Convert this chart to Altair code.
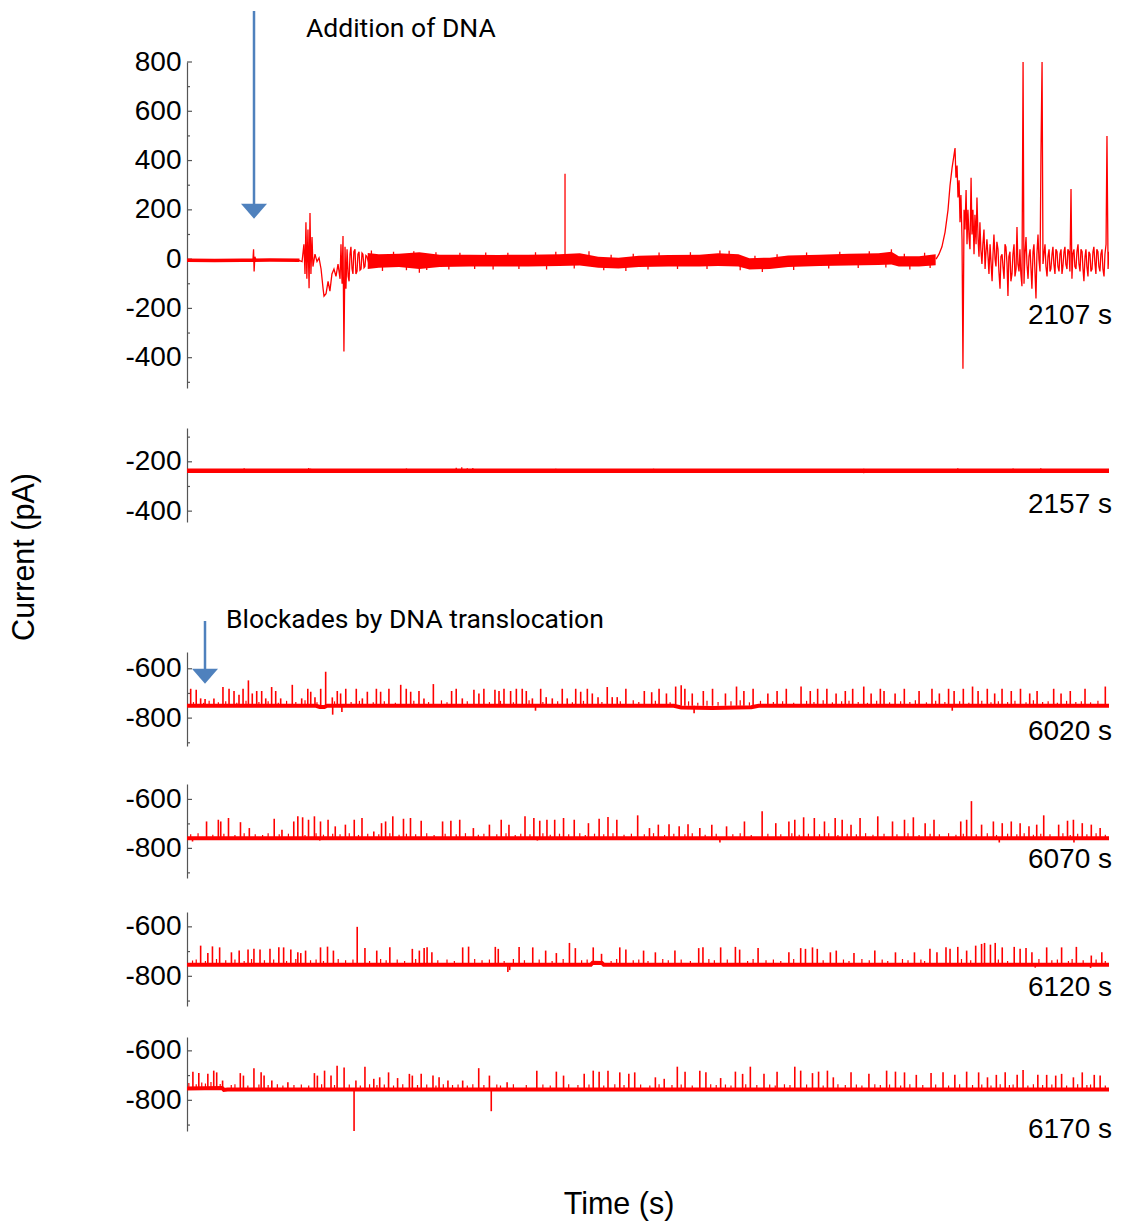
import altair as alt
import pandas as pd

W = 922
FONT = "Liberation Sans"
NARROW = "Roboto"
RED = "#ff0000"
BLUE = "#4f81bd"
AXC = "#555555"

# ---------------- labels ----------------
panel_labels = ["2107 s", "2157 s", "6020 s", "6070 s", "6120 s", "6170 s"]
annot_top = ["Addition of DNA"]
annot_mid = ["Blockades by DNA translocation"]
y_title = ["Current (pA)"]
x_title = ["Time (s)"]

# ---------------- panel 1 (ends 2107 s) ----------------
p1_flat = [(0, -5), (1.5, -6), (3.0, -5), (4.5, -4), (6.1, -5)]
p1_early = [
    (3.50, -5), (3.58, 0), (3.61, 40), (3.64, -50), (3.68, 10), (3.75, -5),
    (6.07, -5), (6.24, -10), (6.34, 60), (6.40, -60), (6.45, 150), (6.50, -80),
    (6.56, 120), (6.62, -118), (6.67, 187), (6.72, -60), (6.78, 90), (6.83, -30),
    (6.94, 20), (7.05, -10), (7.16, 5), (7.27, -40), (7.38, -120), (7.43, -150),
    (7.54, -140), (7.65, -90), (7.75, -130), (7.86, -60), (7.97, -40), (8.08, -70),
    (8.19, -20), (8.30, -80), (8.35, 60), (8.41, -100), (8.46, 94), (8.51, -375),
    (8.57, 50), (8.62, -120), (8.68, 40), (8.74, -70), (8.79, -90), (8.84, 20),
    (8.89, 50), (8.95, -40), (9.00, -60), (9.05, 30), (9.11, 40), (9.16, -60),
    (9.22, -50), (9.27, 20), (9.33, 30), (9.38, -45), (9.44, -40), (9.49, 25),
    (9.54, 20), (9.60, -35), (9.65, -30), (9.70, 15), (9.76, 10), (9.87, -20),
]
p1_band = [  # (t, lower, upper)
    (9.8, -40, 25), (10.4, -35, 20), (11.5, -32, 22), (12.6, -40, 28),
    (13.7, -32, 18), (15.3, -30, 18), (16.9, -30, 17), (18.5, -30, 18),
    (20.2, -28, 20), (21.3, -26, 24), (22.3, -35, 10), (23.4, -38, 6),
    (24.5, -32, 14), (26.1, -30, 17), (27.8, -30, 18), (28.8, -28, 24),
    (29.9, -30, 20), (30.5, -42, 4), (31.6, -40, 6), (32.6, -32, 15),
    (34.3, -28, 18), (35.9, -26, 22), (37.5, -24, 24), (38.2, -22, 30),
    (38.6, -30, 12), (39.7, -30, 12), (40.6, -25, 20),
]
p1_band_spikes = [
    (20.5, 346), (12.6, -55), (28.9, 35), (38.2, 40),
    (10.0, 35), (10.6, -48), (11.2, 30), (11.9, -45), (12.3, 32), (13.0, -44),
    (13.5, 28), (14.2, -42), (14.8, 26), (15.6, -40), (16.2, 27), (16.6, -42),
    (17.4, 26), (18.0, -40), (18.9, 28), (19.5, -42), (20.0, 30), (21.0, -38),
    (21.8, 32), (22.6, -45), (23.0, 18), (23.8, -48), (24.2, 22), (25.0, -42),
    (25.6, 27), (26.6, -40), (27.3, 28), (28.2, -40), (29.4, 34), (30.0, -45),
    (30.8, 14), (31.2, -52), (32.0, 20), (32.9, -44), (33.6, 27), (34.8, -38),
    (35.4, 30), (36.4, -36), (37.0, 32), (37.9, -34), (38.9, 22), (39.2, -42),
    (40.0, 26), (40.3, -36),
]
p1_late = [
    (40.62, 0), (40.78, 20), (40.94, 50), (41.11, 110), (41.27, 200), (41.38, 300),
    (41.49, 370), (41.59, 420), (41.65, 451), (41.70, 330), (41.76, 380), (41.81, 250),
    (41.87, 320), (41.92, 150), (41.97, 260), (42.03, 80), (42.08, -445), (42.14, 200),
    (42.19, 120), (42.25, 280), (42.30, 60), (42.35, 200), (42.41, 90), (42.46, 40),
    (42.52, 330), (42.57, 100), (42.62, 200), (42.68, 20), (42.73, 180), (42.79, 60),
    (42.84, 250), (42.90, 80), (42.95, 10), (43.00, 150), (43.05, 40), (43.11, -20),
    (43.16, 60), (43.22, 120), (43.28, -40), (43.33, 30), (43.38, 80), (43.44, 10),
    (43.49, -60), (43.55, 60), (43.60, -10), (43.66, -90), (43.71, 20), (43.76, 100),
    (43.82, 0), (43.87, -30), (43.92, 70), (43.98, 40), (44.03, -50), (44.09, -120),
    (44.14, 10), (44.20, 20), (44.25, -30), (44.31, -80), (44.36, 60), (44.41, 50),
    (44.47, -20), (44.52, -150), (44.57, 10), (44.63, 30), (44.68, -90), (44.74, -60),
    (44.79, 20), (44.85, 60), (44.90, -70), (44.96, -40), (45.01, 130), (45.06, -20),
    (45.12, -50), (45.17, 40), (45.22, -60), (45.28, -110), (45.34, 800), (45.39, -100),
    (45.44, 20), (45.50, 90), (45.55, -20), (45.61, -80), (45.66, 10), (45.72, 40),
    (45.77, -40), (45.82, -120), (45.88, 30), (45.93, 60), (45.98, -40), (46.04, -160),
    (46.09, 20), (46.15, 100), (46.20, 0), (46.26, -50), (46.31, 427), (46.37, 800),
    (46.42, -20), (46.47, 20), (46.53, 60), (46.58, -30), (46.64, -70), (46.69, 10),
    (46.75, 40), (46.80, -50), (46.85, -40), (46.91, 20), (46.96, 50), (47.01, -20),
    (47.07, -60), (47.12, 40), (47.18, 30), (47.23, -30), (47.29, -50), (47.34, 20),
    (47.40, 40), (47.45, -60), (47.50, -30), (47.56, 30), (47.61, 50), (47.66, -20),
    (47.72, -40), (47.77, 40), (47.83, 30), (47.88, -50), (47.94, 285), (47.99, -80),
    (48.04, 20), (48.10, 40), (48.15, -30), (48.21, -40), (48.26, 30), (48.32, 60),
    (48.37, -20), (48.43, -50), (48.48, 40), (48.54, 30), (48.59, -40), (48.64, -90),
    (48.70, 10), (48.75, 40), (48.80, -30), (48.86, -70), (48.91, 30), (48.97, 20),
    (49.02, -50), (49.08, -40), (49.13, 30), (49.18, 50), (49.24, -20), (49.29, -60),
    (49.34, 40), (49.40, 30), (49.45, -30), (49.51, -50), (49.56, 20), (49.62, 40),
    (49.67, -40), (49.73, -70), (49.78, 20), (49.84, 60), (49.89, 500), (49.95, -40),
    (50.00, 30),
]

# ---------------- panel 2 (ends 2157 s) ----------------
p2_base = [(0, -236), (50, -236)]
p2_spikes = [(3.1, -226), (6.6, -225), (6.7, -228), (11.9, -227), (14.6, -224),
             (14.9, -222), (15.2, -226), (15.5, -225), (20.0, -228), (25.3, -228),
             (36.7, -228), (41.8, -226), (44.8, -227), (46.3, -226),
             (6.6, -245), (36.7, -246)]

# ---------------- panel 3 (ends 6020 s) ----------------
p3_base = [(0, -750), (7.0, -750), (7.2, -755), (7.45, -755), (7.6, -750),
           (26.4, -750), (26.8, -757), (28.5, -759), (30.6, -756), (31.0, -750), (50, -750)]
p3_spikes = [
    (0.2, -681), (0.5, -685), (0.74, -720), (0.98, -722), (1.46, -720), (1.95, -674),
    (2.28, -681), (2.55, -690), (2.82, -705), (3.04, -681), (3.33, -647), (3.54, -700),
    (3.78, -690), (4.05, -690), (4.27, -720), (4.59, -674), (4.81, -690), (5.08, -720),
    (5.71, -665), (6.22, -720), (6.55, -681), (6.71, -693), (6.94, -715), (7.25, -681),
    (7.52, -612), (7.88, -716), (8.15, -690), (8.33, -700), (8.61, -681), (9.18, -681),
    (9.51, -720), (9.78, -693), (10.27, -681), (10.5, -693), (10.95, -681), (11.59, -665),
    (11.89, -681), (12.13, -693), (12.58, -690), (12.85, -720), (13.36, -662), (14.35, -690),
    (14.6, -681), (14.93, -720), (15.56, -685), (15.83, -700), (16.1, -681), (16.7, -685),
    (16.92, -690), (17.19, -681), (17.55, -690), (17.86, -681), (18.18, -681), (18.4, -690),
    (18.73, -720), (19.18, -681), (19.48, -715), (19.81, -720), (20.35, -681), (20.62, -720),
    (21.08, -681), (21.35, -693), (21.71, -681), (21.98, -700), (22.29, -715), (22.79, -674),
    (23.06, -715), (23.33, -715), (23.8, -681), (24.8, -690), (25.2, -695), (25.6, -681),
    (26.0, -700), (26.5, -672), (26.8, -667), (27.0, -681), (27.4, -700), (28.0, -690),
    (28.5, -681), (29.2, -700), (29.8, -672), (30.2, -690), (30.7, -681), (31.5, -700),
    (32.0, -690), (32.5, -681), (33.3, -672), (33.8, -690), (34.2, -681), (34.7, -681),
    (35.2, -700), (35.7, -690), (36.1, -681), (36.7, -672), (37.1, -700), (37.6, -681),
    (37.8, -690), (38.4, -700), (38.9, -681), (39.7, -690), (40.4, -681), (40.8, -700),
    (41.3, -681), (41.6, -690), (42.1, -681), (42.6, -672), (42.9, -690), (43.4, -681),
    (43.8, -700), (44.2, -681), (44.7, -690), (45.2, -681), (45.7, -700), (46.1, -690),
    (47.0, -681), (47.4, -700), (47.9, -690), (48.7, -681), (49.8, -672),
    (7.9, -786), (8.4, -775), (18.9, -770), (27.5, -780), (41.5, -770),
]
p3_small = [
    (0.35, -735), (0.9, -738), (1.2, -730), (1.7, -736), (2.1, -732), (2.7, -738),
    (3.2, -730), (3.9, -735), (4.4, -732), (4.95, -738), (5.4, -730), (5.9, -735),
    (6.4, -728), (7.05, -736), (8.0, -732), (8.9, -735), (9.35, -730), (10.1, -736),
    (10.7, -732), (11.3, -738), (12.3, -730), (13.1, -735), (13.8, -728), (14.1, -736),
    (15.2, -732), (16.4, -735), (17.0, -730), (17.7, -736), (18.55, -728), (19.3, -735),
    (20.1, -732), (20.9, -736), (21.5, -730), (22.5, -735), (23.5, -732), (24.2, -728),
    (24.5, -735), (25.4, -730), (26.2, -736), (27.2, -732), (27.7, -738), (28.2, -730),
    (28.8, -735), (29.5, -732), (30.0, -728), (30.5, -736), (31.1, -730), (31.8, -735),
    (32.3, -732), (32.9, -738), (33.6, -730), (34.0, -735), (34.5, -728), (35.0, -736),
    (35.5, -732), (35.9, -730), (36.4, -735), (36.9, -738), (37.4, -730), (38.1, -736),
    (38.7, -732), (39.2, -735), (39.5, -728), (40.1, -736), (40.6, -730), (41.1, -735),
    (41.9, -732), (42.4, -738), (43.1, -730), (43.6, -736), (44.0, -732), (44.5, -735),
    (44.9, -730), (45.5, -736), (45.9, -728), (46.4, -735), (46.7, -732), (47.2, -738),
    (47.7, -730), (48.2, -735), (48.5, -732), (49.0, -736), (49.4, -730),
]

# ---------------- panel 4 (ends 6070 s) ----------------
p4_base = [(0, -759), (50, -759)]
p4_spikes = [
    (1.06, -690), (1.7, -683), (1.83, -690), (2.25, -676), (2.9, -693), (3.38, -717),
    (4.73, -679), (5.15, -724), (5.79, -690), (6.01, -669), (6.27, -673), (6.59, -683),
    (6.91, -669), (7.24, -690), (7.65, -683), (8.04, -710), (8.59, -703), (9.07, -683),
    (9.49, -676), (10.13, -731), (10.55, -697), (10.77, -690), (11.16, -669), (11.74, -679),
    (12.12, -676), (12.7, -687), (13.86, -690), (14.31, -687), (14.79, -683), (15.53, -717),
    (16.4, -703), (17.04, -683), (17.46, -703), (18.33, -669), (18.81, -676), (19.13, -687),
    (19.52, -683), (19.94, -683), (20.42, -676), (21.0, -683), (21.77, -697), (22.35, -679),
    (22.83, -672), (23.31, -683), (24.44, -665), (25.08, -717), (25.56, -703), (26.14, -701),
    (26.69, -710), (27.17, -701), (27.81, -717), (28.46, -703), (29.26, -710), (30.23, -690),
    (31.19, -648), (31.93, -697), (32.64, -690), (32.96, -683), (33.44, -673), (34.02, -676),
    (34.57, -690), (35.15, -676), (35.53, -683), (36.01, -703), (36.5, -676), (37.46, -669),
    (38.26, -690), (38.91, -683), (39.39, -673), (40.03, -697), (40.51, -683), (41.96, -690),
    (42.28, -683), (42.54, -607), (43.09, -703), (43.73, -690), (44.21, -697), (44.7, -690),
    (45.18, -697), (45.66, -710), (46.08, -703), (46.46, -665), (47.27, -703), (47.75, -687),
    (48.07, -683), (48.55, -697), (49.04, -703), (49.52, -717),
    (0.3, -772), (7.2, -768), (19.0, -768), (28.9, -776), (44.05, -776), (48.1, -776),
]
p4_small = [
    (0.2, -742), (0.6, -738), (1.4, -744), (2.0, -740), (2.6, -745), (3.1, -738),
    (3.7, -742), (4.1, -745), (4.4, -738), (5.0, -742), (5.5, -740), (6.4, -745),
    (7.0, -738), (7.4, -744), (7.9, -740), (8.3, -742), (8.8, -738), (9.3, -745),
    (9.8, -740), (10.4, -742), (11.0, -738), (11.5, -744), (11.9, -740), (12.4, -742),
    (13.0, -738), (13.4, -745), (14.0, -740), (14.6, -742), (15.1, -738), (15.8, -744),
    (16.1, -740), (16.8, -742), (17.3, -738), (17.8, -745), (18.1, -740), (18.6, -742),
    (19.3, -738), (19.7, -744), (20.2, -740), (20.7, -742), (21.3, -738), (21.6, -745),
    (22.1, -740), (22.6, -742), (23.1, -738), (23.7, -744), (24.1, -740), (24.8, -742),
    (25.3, -738), (25.9, -745), (26.4, -740), (27.0, -742), (27.4, -738), (28.1, -744),
    (28.7, -740), (29.6, -742), (30.0, -738), (30.6, -745), (31.5, -740), (32.2, -742),
    (32.8, -738), (33.2, -744), (33.7, -740), (34.3, -742), (34.8, -738), (35.3, -745),
    (35.8, -740), (36.3, -742), (36.8, -738), (37.2, -744), (37.8, -740), (38.5, -742),
    (39.1, -738), (39.7, -745), (40.3, -740), (40.8, -742), (41.3, -738), (41.7, -744),
    (42.1, -740), (42.8, -742), (43.4, -738), (43.9, -745), (44.5, -740), (45.0, -742),
    (45.4, -738), (45.9, -744), (46.3, -740), (46.8, -742), (47.5, -738), (47.9, -745),
    (48.3, -740), (48.8, -742), (49.3, -738), (49.8, -744),
]

# ---------------- panel 5 (ends 6120 s) ----------------
p5_base = [(0, -753), (21.9, -753), (22.0, -745), (22.5, -746), (22.6, -753), (50, -753)]
p5_spikes = [
    (0.74, -676), (1.13, -706), (1.38, -679), (1.77, -683), (2.41, -703), (2.83, -696),
    (3.31, -692), (3.63, -689), (3.96, -692), (4.5, -689), (4.98, -683), (5.24, -683),
    (5.63, -692), (6.01, -703), (6.17, -706), (6.43, -696), (7.24, -683), (7.62, -680),
    (7.94, -696), (9.23, -600), (9.65, -686), (10.29, -696), (11.0, -683), (12.22, -689),
    (12.6, -696), (12.86, -686), (13.02, -683), (13.28, -703), (14.95, -683), (15.27, -680),
    (16.72, -681), (16.88, -689), (18.01, -681), (18.75, -683), (19.45, -696), (20.03, -706),
    (20.74, -665), (21.06, -686), (22.03, -683), (22.48, -709), (23.47, -683), (23.8, -692),
    (24.76, -696), (25.4, -703), (26.46, -696), (27.75, -686), (27.98, -683), (28.94, -683),
    (29.74, -681), (29.97, -692), (30.97, -686), (32.64, -703), (33.28, -686), (33.54, -689),
    (33.92, -683), (34.18, -689), (34.89, -703), (35.21, -696), (36.17, -706), (37.3, -696),
    (38.42, -703), (39.45, -703), (40.29, -689), (40.67, -703), (41.16, -683), (41.38, -689),
    (41.8, -681), (42.28, -696), (42.77, -676), (43.09, -669), (43.25, -665), (43.57, -672),
    (43.83, -665), (44.21, -683), (44.86, -681), (45.18, -689), (45.5, -686), (45.82, -703),
    (46.62, -683), (47.43, -683), (48.23, -681), (49.04, -716), (49.61, -703),
    (17.4, -783), (17.5, -775), (46.0, -765), (49.0, -766),
]
p5_small = [
    (0.3, -736), (0.5, -732), (1.0, -738), (1.6, -730), (2.1, -735), (2.6, -732),
    (3.1, -738), (3.5, -730), (4.2, -735), (4.7, -732), (5.4, -738), (5.9, -730),
    (6.7, -735), (7.0, -732), (7.4, -738), (8.2, -730), (8.6, -735), (9.0, -732),
    (9.9, -738), (10.5, -730), (10.8, -735), (11.4, -732), (11.8, -738), (12.4, -730),
    (13.6, -735), (14.1, -732), (14.5, -738), (15.6, -730), (16.0, -735), (16.4, -732),
    (17.2, -738), (17.7, -730), (18.3, -735), (19.1, -732), (19.8, -738), (20.4, -730),
    (21.4, -735), (21.7, -732), (23.0, -738), (23.3, -730), (24.2, -735), (24.5, -732),
    (25.0, -738), (25.8, -730), (26.1, -735), (26.8, -732), (27.3, -738), (28.3, -730),
    (28.6, -735), (29.3, -732), (30.4, -738), (30.7, -730), (31.4, -735), (31.8, -732),
    (32.2, -738), (32.9, -730), (34.5, -735), (35.6, -732), (35.9, -738), (36.6, -730),
    (37.0, -735), (37.7, -732), (38.0, -738), (38.8, -730), (39.1, -735), (39.8, -732),
    (40.0, -738), (42.0, -730), (42.5, -735), (44.0, -732), (44.5, -738), (46.2, -730),
    (46.9, -735), (47.2, -732), (47.8, -738), (48.0, -730), (48.6, -735), (49.3, -732),
    (49.8, -738),
]

# ---------------- panel 6 (ends 6170 s) ----------------
p6_base = [(0, -752), (1.9, -750), (2.0, -758), (2.2, -756), (50, -756)]
p6_spikes = [
    (0.32, -684), (0.64, -690), (1.13, -693), (1.45, -680), (1.61, -687), (1.93, -720),
    (2.89, -690), (3.06, -700), (3.63, -670), (4.02, -687), (4.18, -700), (4.6, -720),
    (5.47, -727), (6.91, -690), (7.07, -700), (7.46, -680), (7.81, -700), (8.14, -660),
    (8.52, -667), (9.16, -720), (9.65, -664), (10.13, -713), (10.45, -707), (10.93, -687),
    (11.42, -710), (12.06, -693), (12.22, -700), (12.7, -693), (13.34, -700), (13.67, -707),
    (14.15, -720), (14.95, -720), (15.82, -670), (16.4, -700), (17.36, -727), (18.97, -680),
    (20.03, -684), (20.42, -700), (21.54, -693), (22.03, -680), (22.35, -684), (22.83, -680),
    (23.47, -687), (23.96, -693), (24.28, -687), (25.4, -707), (25.88, -713), (26.59, -664),
    (27.01, -684), (27.81, -680), (28.14, -687), (28.94, -710), (29.74, -684), (30.13, -693),
    (30.55, -664), (31.29, -693), (32.0, -684), (32.96, -664), (33.28, -680), (33.92, -690),
    (34.25, -684), (34.73, -680), (35.05, -707), (36.01, -687), (36.98, -693), (37.94, -680),
    (38.42, -684), (38.91, -687), (39.55, -697), (40.35, -690), (41.0, -687), (41.64, -697),
    (42.28, -684), (42.93, -687), (43.41, -707), (43.89, -697), (44.37, -687), (45.02, -697),
    (45.34, -677), (46.14, -697), (46.62, -697), (47.11, -700), (47.43, -693), (48.07, -707),
    (48.55, -687), (49.2, -697), (49.52, -700),
    (9.06, -930), (16.5, -844),
]
p6_small = [
    (0.1, -730), (0.5, -735), (0.8, -728), (1.0, -732), (1.3, -726), (1.8, -734),
    (2.4, -738), (2.6, -735), (3.3, -740), (3.9, -736), (4.4, -738), (4.9, -735),
    (5.2, -740), (5.8, -738), (6.2, -736), (6.6, -740), (7.3, -735), (8.0, -738),
    (8.8, -736), (9.4, -740), (9.9, -735), (10.3, -738), (10.7, -736), (11.2, -740),
    (11.7, -735), (12.5, -738), (13.0, -736), (13.5, -740), (13.9, -735), (14.4, -738),
    (14.7, -736), (15.2, -740), (15.5, -735), (16.1, -738), (16.8, -736), (17.0, -740),
    (17.7, -735), (18.4, -738), (19.3, -736), (19.7, -740), (20.7, -735), (21.2, -738),
    (21.8, -736), (22.6, -740), (23.2, -735), (23.7, -738), (24.6, -736), (25.1, -740),
    (25.6, -735), (26.3, -738), (26.8, -736), (27.4, -740), (28.4, -735), (28.7, -738),
    (29.2, -736), (29.5, -740), (30.3, -735), (30.9, -738), (31.6, -736), (31.9, -740),
    (32.4, -735), (32.7, -738), (33.6, -736), (34.5, -740), (35.3, -735), (35.7, -738),
    (36.3, -736), (36.6, -740), (37.3, -735), (37.6, -738), (38.1, -736), (38.7, -740),
    (39.2, -735), (39.9, -738), (40.6, -736), (41.3, -740), (41.9, -735), (42.6, -738),
    (43.1, -736), (43.6, -740), (44.1, -735), (44.6, -738), (44.8, -736), (45.6, -740),
    (45.9, -735), (46.4, -738), (46.9, -736), (47.7, -740), (48.3, -735), (48.8, -738),
    (49.0, -736), (49.8, -740),
]

# ---------------- axes ----------------
p1_domain, p1_major, p1_minor = [-523, 800], [-400, -200, 0, 200, 400, 600, 800], [-500, -300, -100, 100, 300, 500, 700]
p2_domain, p2_major, p2_minor = [-444, -63], [-400, -200], [-300, -100]
p3_domain = [-913, -532]
p4_domain = [-921, -537]
p5_domain = [-920, -540]
p6_domain = [-924, -544]
low_major, low_minor = [-800, -600], [-900, -700]


def line_df(pts):
    return pd.DataFrame(pts, columns=["t", "v"])


def spike_df(pts, base):
    df = pd.DataFrame(pts, columns=["t", "peak"])
    df["base"] = base
    return df


def make_panel(domain, height, major, minor, layers, label, label_y, extras=()):
    xs = alt.Scale(domain=[0, 50], nice=False, zero=False)
    ys = alt.Scale(domain=domain, nice=False, zero=False)
    axis = alt.Axis(values=major, ticks=False, grid=False, title=None,
                    domainColor=AXC, domainWidth=1.2, labelFont=FONT, labelFontSize=28,
                    labelColor="black", labelPadding=6, labelExpr="'' + datum.value")
    X = lambda f: alt.X(f, scale=xs, axis=None)
    Y = lambda f: alt.Y(f, scale=ys, axis=axis)

    parts = []
    parts.append(alt.Chart(pd.DataFrame({"v": major})).mark_rule(color=AXC, strokeWidth=1.2)
                 .encode(y=Y("v:Q"), x=alt.value(0), x2=alt.value(5)))
    parts.append(alt.Chart(pd.DataFrame({"v": minor})).mark_rule(color=AXC, strokeWidth=1.2)
                 .encode(y=Y("v:Q"), x=alt.value(0), x2=alt.value(3)))
    for kind, df, opts in layers:
        if kind == "thick":
            parts.append(alt.Chart(df).mark_line(color=RED, strokeWidth=opts, clip=True)
                         .encode(x=X("t:Q"), y=Y("v:Q")))
        elif kind == "line":
            parts.append(alt.Chart(df).mark_line(color=RED, strokeWidth=opts, clip=True)
                         .encode(x=X("t:Q"), y=Y("v:Q"), order="t:Q"))
        elif kind == "band":
            parts.append(alt.Chart(df).mark_area(color=RED, opacity=1, clip=True)
                         .encode(x=X("t:Q"), y=Y("lo:Q"), y2="hi:Q"))
        elif kind == "spikes":
            parts.append(alt.Chart(df).mark_rule(color=RED, strokeWidth=opts, clip=True)
                         .encode(x=X("t:Q"), y=Y("base:Q"), y2="peak:Q"))
    parts.append(alt.Chart(pd.DataFrame({"lab": [label]})).mark_text(
        align="right", baseline="alphabetic", font=FONT, fontSize=28, color="black")
        .encode(text="lab:N", x=alt.value(925), y=alt.value(label_y)))
    parts.extend(extras)
    return alt.layer(*parts).properties(width=W, height=height)


def spacer(h):
    return (alt.Chart(pd.DataFrame({"s": [0]})).mark_point(opacity=0)
            .encode(x=alt.X("s:Q", axis=None), y=alt.Y("s:Q", axis=None))
            .properties(width=W, height=h))


one = pd.DataFrame({"a": [0]})
arrow1 = [
    alt.Chart(one).mark_rule(color=BLUE, strokeWidth=2.5).encode(
        x=alt.value(67), y=alt.value(-51), y2=alt.value(143)),
    alt.Chart(one).mark_point(shape="M-1,-0.55L1,-0.55L0,0.6Z", filled=True, color=BLUE,
                              opacity=1, size=676).encode(x=alt.value(67), y=alt.value(149)),
    alt.Chart(pd.DataFrame({"txt": annot_top})).mark_text(
        align="left", baseline="alphabetic", font=NARROW, fontSize=26.5, color="black")
        .encode(text="txt:N", x=alt.value(119), y=alt.value(-25)),
    alt.Chart(pd.DataFrame({"txt": y_title})).mark_text(
        align="center", baseline="alphabetic", font=FONT, fontSize=30.5, color="black", angle=270)
        .encode(text="txt:N", x=alt.value(-153), y=alt.value(495)),
]
arrow2 = [
    alt.Chart(one).mark_rule(color=BLUE, strokeWidth=2.5).encode(
        x=alt.value(18), y=alt.value(-31), y2=alt.value(18)),
    alt.Chart(one).mark_point(shape="M-1,-0.55L1,-0.55L0,0.6Z", filled=True, color=BLUE,
                              opacity=1, size=676).encode(x=alt.value(18), y=alt.value(24)),
    alt.Chart(pd.DataFrame({"txt": annot_mid})).mark_text(
        align="left", baseline="alphabetic", font=NARROW, fontSize=26.5, color="black")
        .encode(text="txt:N", x=alt.value(39), y=alt.value(-24)),
]
xtitle = [
    alt.Chart(pd.DataFrame({"txt": x_title})).mark_text(
        align="center", baseline="alphabetic", font=FONT, fontSize=30.5, color="black")
        .encode(text="txt:N", x=alt.value(432), y=alt.value(177)),
]

band_df = pd.DataFrame(p1_band, columns=["t", "lo", "hi"])
p1 = make_panel(p1_domain, 326, p1_major, p1_minor, [
    ("thick", line_df(p1_flat), 3.5),
    ("band", band_df, None),
    ("spikes", spike_df(p1_band_spikes, 0), 1.3),
    ("line", line_df(p1_early), 1.3),
    ("line", line_df(p1_late), 1.3),
], panel_labels[0], 262, arrow1)

p2 = make_panel(p2_domain, 94, p2_major, p2_minor, [
    ("thick", line_df(p2_base), 4.5),
    ("spikes", spike_df(p2_spikes, -236), 1.3),
], panel_labels[1], 85)

p3 = make_panel(p3_domain, 94, low_major, low_minor, [
    ("spikes", spike_df(p3_small, -750), 1.2),
    ("thick", line_df(p3_base), 4),
    ("spikes", spike_df(p3_spikes, -750), 1.6),
], panel_labels[2], 88, arrow2)

p4 = make_panel(p4_domain, 94, low_major, low_minor, [
    ("spikes", spike_df(p4_small, -759), 1.2),
    ("thick", line_df(p4_base), 4),
    ("spikes", spike_df(p4_spikes, -759), 1.6),
], panel_labels[3], 84)

p5 = make_panel(p5_domain, 94, low_major, low_minor, [
    ("spikes", spike_df(p5_small, -753), 1.2),
    ("thick", line_df(p5_base), 4),
    ("spikes", spike_df(p5_spikes, -753), 1.6),
], panel_labels[4], 84)

p6 = make_panel(p6_domain, 94, low_major, low_minor, [
    ("spikes", spike_df(p6_small, -756), 1.2),
    ("thick", line_df(p6_base), 4),
    ("spikes", spike_df(p6_spikes, -756), 1.6),
], panel_labels[5], 101, xtitle)

chart = alt.vconcat(
    p1, spacer(40), p2, spacer(130), p3, spacer(38), p4, spacer(34), p5, spacer(31), p6,
    spacing=0, bounds="flush",
).properties(
    padding={"left": 10, "top": 9, "right": 5, "bottom": 5},
    background="white",
).configure_view(stroke=None)

chart.save("out.html", embed_options={"renderer": "svg", "actions": False})
